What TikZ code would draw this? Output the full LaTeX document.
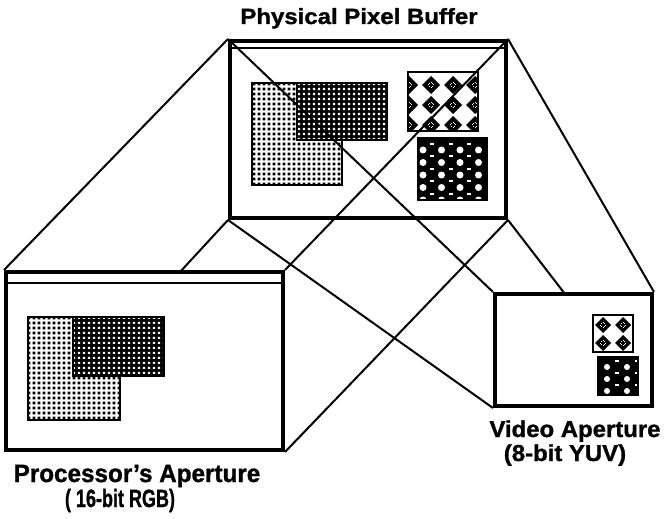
\documentclass[tikz,border=0pt]{standalone}
\usepackage{fontspec}
\setmainfont{Liberation Sans}[BoldFeatures={FakeBold=1.2}]
\usetikzlibrary{patterns}
\pgfdeclarepatternformonly{sqbig}{\pgfqpoint{0pt}{0pt}}{\pgfqpoint{4.5pt}{4.5pt}}{\pgfqpoint{4.5pt}{4.5pt}}{\pgfpathrectangle{\pgfqpoint{0.8pt}{0.8pt}}{\pgfqpoint{2.9pt}{2.9pt}}\pgfusepath{fill}}
\pgfdeclarepatternformonly{sqsmall}{\pgfqpoint{0pt}{0pt}}{\pgfqpoint{4.5pt}{4.5pt}}{\pgfqpoint{4.5pt}{4.5pt}}{\pgfpathrectangle{\pgfqpoint{1.1pt}{1.1pt}}{\pgfqpoint{2.3pt}{2.3pt}}\pgfusepath{fill}}
\tikzset{
  frame/.style={draw, line width=4pt, inner sep=0pt, rectangle},
  conn/.style={line width=2pt, line join=round},
  barline/.style={line width=2pt},
  lbl/.style={anchor=base, inner sep=0pt},
  regionedge/.style={line width=1.3pt},
}
\newcommand\lightregion[2]{%
  \fill[white] #1 rectangle #2;
  \fill[pattern=sqbig, pattern color=black] #1 rectangle #2;
  \draw[regionedge] #1 rectangle #2;}
\newcommand\darkregion[2]{%
  \fill[black] #1 rectangle #2;
  \fill[pattern=sqsmall, pattern color=white] #1 rectangle #2;
  \draw[regionedge] #1 rectangle #2;}
% diamond box: x0,y0,x1,y1,dx,dy,half-diagonal,offx,offy
\newcommand\diabox[9]{%
  \begin{scope}
    \clip (#1,#2) rectangle (#3,#4);
    \fill[white] (#1,#2) rectangle (#3,#4);
    \foreach \i in {0,...,4}{\foreach \j in {0,...,4}{
      \begin{scope}[shift={({#1+#8+#5*\i},{#2+#9+#6*\j})}]
        \fill[black] (-#7,0) -- (0,-#7) -- (#7,0) -- (0,#7) -- cycle;
        \foreach \a/\b in {-2.6/0,2.6/0,0/-2.6,0/2.6,-1.3/-1.3,1.3/1.3,-1.3/1.3,1.3/-1.3}{
          \fill[white] (\a-0.5,\b-0.5) rectangle (\a+0.5,\b+0.5);}
      \end{scope}}}
  \end{scope}
  \draw[regionedge] (#1,#2) rectangle (#3,#4);}
% circle box: x0,y0,x1,y1,dx,dy,r,offx,offy
\newcommand\circbox[9]{%
  \begin{scope}
    \clip (#1,#2) rectangle (#3,#4);
    \fill[black] (#1,#2) rectangle (#3,#4);
    \foreach \i in {0,...,4}{\foreach \j in {0,...,4}{
      \begin{scope}[shift={({#1+#8+#5*\i},{#2+#9+#6*\j})}]
        \fill[white] (0,0) circle (#7);
        \fill[white] ({0.5*#5-1.8},{-0.5*#6-0.9}) rectangle ({0.5*#5+1.8},{-0.5*#6+0.9});
      \end{scope}}}
  \end{scope}
  \draw[regionedge] (#1,#2) rectangle (#3,#4);}
\begin{document}
\begin{tikzpicture}[x=1pt, y=-1pt]
\useasboundingbox (0,0) rectangle (665,519);

% boxes
\node[frame, minimum width=276pt, minimum height=177pt] (buf) at (368,129.5) {};
\node[frame, minimum width=277pt, minimum height=178pt] (proc) at (144.5,361) {};
\node[frame, minimum width=157pt, minimum height=112pt] (vid) at (573.5,350) {};

% title bars
\draw[barline] ([yshift=-9pt]buf.north west) -- ([yshift=-9pt]buf.north east);
\draw[barline] ([yshift=-13pt]proc.north west) -- ([yshift=-13pt]proc.north east);

% contents of the physical buffer
\lightregion{(252,83)}{(342,185)}
\darkregion{(297,83)}{(387,140)}
\diabox{408}{72}{478}{131}{22}{20}{9}{1}{13}
\circbox{418}{138}{487}{200}{18.5}{12.5}{3.5}{5}{12}

% contents of the processor aperture
\lightregion{(28,317)}{(120,420)}
\darkregion{(73,317)}{(164,376)}

% contents of the video aperture
\diabox{593}{315}{633}{352}{20}{18}{8}{10}{10}
\circbox{598}{357}{638}{395}{20}{12}{3}{9}{10}

% connector end points on edges
\coordinate (p1) at (180,272);
\coordinate (p2) at (565,294);

% connectors
\draw[conn] (buf.north west) -- (proc.north west);
\draw[conn] (buf.south west) -- (p1);
\draw[conn] (buf.north east) -- (proc.north east);
\draw[conn] (buf.south east) -- (proc.south east);
\draw[conn] (buf.north west) -- (vid.north west);
\draw[conn] (buf.north east) -- (vid.north east);
\draw[conn] (buf.south west) -- (vid.south west);
\draw[conn] (buf.south east) -- (p2);

% frames again on top
\node[frame, minimum width=276pt, minimum height=177pt] at (buf.center) {};
\node[frame, minimum width=277pt, minimum height=178pt] at (proc.center) {};
\node[frame, minimum width=157pt, minimum height=112pt] at (vid.center) {};

% labels
\node[lbl, font=\bfseries\fontsize{22pt}{22pt}\selectfont] (tbuf) at (359,24) {\scalebox{1.09}[1]{Physical Pixel Buffer}};
\node[lbl, font=\bfseries\fontsize{25pt}{25pt}\selectfont] (tproc1) at (137,482) {\scalebox{0.97}[1]{Processor's Aperture}};
\node[lbl, font=\bfseries\fontsize{25pt}{25pt}\selectfont] (tproc2) at (120,507) {\scalebox{0.72}[1]{( 16-bit RGB)}};
\node[lbl, font=\bfseries\fontsize{23pt}{23pt}\selectfont] (tvid1) at (575,437) {\scalebox{1.04}[1]{Video Aperture}};
\node[lbl, font=\bfseries\fontsize{23pt}{23pt}\selectfont] (tvid2) at (565,461) {\scalebox{1.04}[1]{(8-bit YUV)}};
\end{tikzpicture}
\end{document}
